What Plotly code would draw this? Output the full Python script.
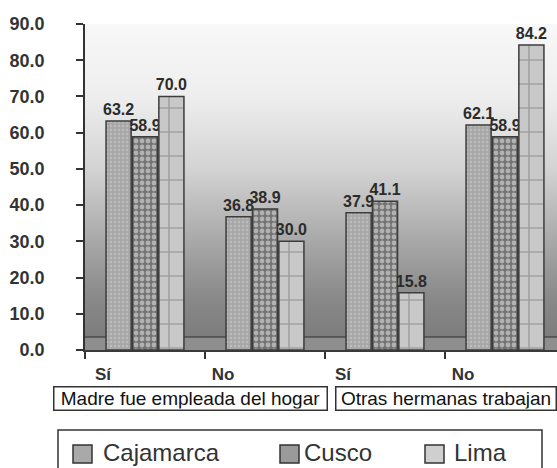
import base64
import struct
import zlib

import plotly.graph_objects as go

# Categories (answer per question) and grouped question labels
categories = ["Sí", "No", "Sí", "No"]
groups = ["Madre fue empleada del hogar", "Otras hermanas trabajan"]

# Percentages per region
cajamarca = [63.2, 36.8, 37.9, 62.1]
cusco = [58.9, 38.9, 41.1, 58.9]
lima = [70.0, 30.0, 15.8, 84.2]

series_names = ["Cajamarca", "Cusco", "Lima"]
y_ticks = [0, 10, 20, 30, 40, 50, 60, 70, 80, 90]

xpos = list(range(len(categories)))

styles = {
    "Cajamarca": dict(color="#a6a6a6",
                      pattern=dict(shape=".", fgcolor="#d2d2d2", size=4, solidity=0.35)),
    "Cusco": dict(color="#747474",
                  pattern=dict(shape=".", fgcolor="#f0f0f0", size=6, solidity=0.5)),
    "Lima": dict(color="#c8c8c8",
                 pattern=dict(shape="+", fgcolor="#7a7a7a", size=24, solidity=0.13)),
}

fig = go.Figure()
for name, vals in zip(series_names, [cajamarca, cusco, lima]):
    st = styles[name]
    fig.add_trace(go.Bar(
        x=xpos, y=vals, name=name, showlegend=False,
        marker=dict(color=st["color"], pattern=st["pattern"],
                    line=dict(color="#3c3c3c", width=1.5)),
        text=[f"{v:.1f}" for v in vals], textposition="outside", constraintext="none",
        textfont=dict(family="Liberation Sans, Arial", size=16, color="#2b2b2b", weight="bold"),
        cliponaxis=False,
    ))

# Vertical grey gradient behind the bars, built as a 1-pixel-wide PNG
stops = [(0, (0x78, 0x78, 0x78)), (15, (0x8a, 0x8a, 0x8a)), (30, (0xa8, 0xa8, 0xa8)),
         (50, (0xd3, 0xd3, 0xd3)), (70, (0xee, 0xee, 0xee)), (90, (0xf8, 0xf8, 0xf8))]


def grad(v):
    for (a, ca), (b, cb) in zip(stops[:-1], stops[1:]):
        if a <= v <= b:
            t = (v - a) / (b - a)
            return tuple(round(ca[i] + (cb[i] - ca[i]) * t) for i in range(3))
    return (248, 248, 248)


def gradient_png(rows):
    raw = b""
    for r in range(rows):
        v = 90 * (1 - (r + 0.5) / rows)
        raw += b"\x00" + bytes(grad(v))

    def chunk(tag, data):
        c = struct.pack(">I", len(data)) + tag + data
        return c + struct.pack(">I", zlib.crc32(tag + data) & 0xFFFFFFFF)

    png = b"\x89PNG\r\n\x1a\n"
    png += chunk(b"IHDR", struct.pack(">IIBBBBB", 1, rows, 8, 2, 0, 0, 0))
    png += chunk(b"IDAT", zlib.compress(raw))
    png += chunk(b"IEND", b"")
    return "data:image/png;base64," + base64.b64encode(png).decode()


fig.add_layout_image(dict(source=gradient_png(326), xref="paper", yref="paper",
                          x=0, y=1, sizex=1, sizey=1, sizing="stretch",
                          xanchor="left", yanchor="top", layer="below"))

shapes = []
# Floor of the chart
shapes.append(dict(type="rect", xref="paper", yref="y", x0=0, x1=1, y0=0, y1=3.6,
                   fillcolor="#8e8e8e", line=dict(width=0), layer="below"))
shapes.append(dict(type="line", xref="paper", yref="y", x0=0, x1=1, y0=3.6, y1=3.6,
                   line=dict(color="#4a4a4a", width=1.5), layer="below"))

# Manual legend box and swatches
shapes.append(dict(type="rect", xref="paper", yref="paper",
                   x0=(58 - 85) / 472, x1=(542 - 85) / 472,
                   y0=(350 - 472) / 326, y1=(350 - 430) / 326,
                   line=dict(color="#333333", width=1.5), fillcolor="white"))
swatch_x = [73, 280, 425]
swatch_fill = ["#a9a9a9", "#9a9a9a", "#cfcfcf"]
for sx, sf in zip(swatch_x, swatch_fill):
    shapes.append(dict(type="rect", xref="paper", yref="paper",
                       x0=(sx - 85) / 472, x1=(sx + 19 - 85) / 472,
                       y0=(350 - 463) / 326, y1=(350 - 445) / 326,
                       line=dict(color="#333333", width=1.5), fillcolor=sf))

annotations = []
text_x = [101, 302, 452]
for tx, name in zip(text_x, series_names):
    annotations.append(dict(xref="paper", yref="paper", x=(tx - 85) / 472, y=(350 - 452) / 326,
                            text=name, showarrow=False, xanchor="left", yanchor="middle",
                            font=dict(family="Liberation Sans, Arial", size=24, color="#333333")))

# Boxed group labels under the category axis
group_boxes = [(53, 327), (335, 556)]
for (bx0, bx1), g in zip(group_boxes, groups):
    annotations.append(dict(xref="paper", yref="paper",
                            x=((bx0 + bx1) / 2 - 85) / 472, y=(350 - 398) / 326,
                            text=g, showarrow=False, xanchor="center", yanchor="middle",
                            width=bx1 - bx0 - 4, height=20, borderpad=1,
                            bordercolor="#333333", borderwidth=1.5, bgcolor="white",
                            font=dict(family="Liberation Sans, Arial", size=19, color="#111111")))

fig.update_layout(
    width=557, height=468,
    margin=dict(l=85, r=0, t=24, b=118),
    paper_bgcolor="white", plot_bgcolor="rgba(0,0,0,0)",
    barmode="group", bargap=0.34, bargroupgap=0.05,
    shapes=shapes, annotations=annotations,
    font=dict(family="Liberation Sans, Arial", color="#333333"),
)
fig.update_xaxes(
    range=[-0.5, -0.5 + 472 / 120],
    tickvals=xpos, ticktext=categories,
    ticks="", ticklabelshift=-42, ticklabelstandoff=8,
    tickfont=dict(size=17, color="#333333", weight="bold"),
    minor=dict(tickvals=[-0.5, 0.5, 1.5, 2.5], ticks="outside", ticklen=7,
               tickcolor="#333333", tickwidth=1.5),
    showline=True, linecolor="#3a3a3a", linewidth=2, showgrid=False, zeroline=False,
)
fig.update_yaxes(
    range=[0, 90], tickvals=y_ticks, ticktext=[f"{t:.1f}" for t in y_ticks],
    ticks="outside", ticklen=7, tickcolor="#333333", tickwidth=1.5,
    ticklabelstandoff=28,
    tickfont=dict(size=18, color="#333333", weight="bold"),
    showline=True, linecolor="#333333", linewidth=1.5, showgrid=False, zeroline=False,
)

fig.write_html("out.html")
